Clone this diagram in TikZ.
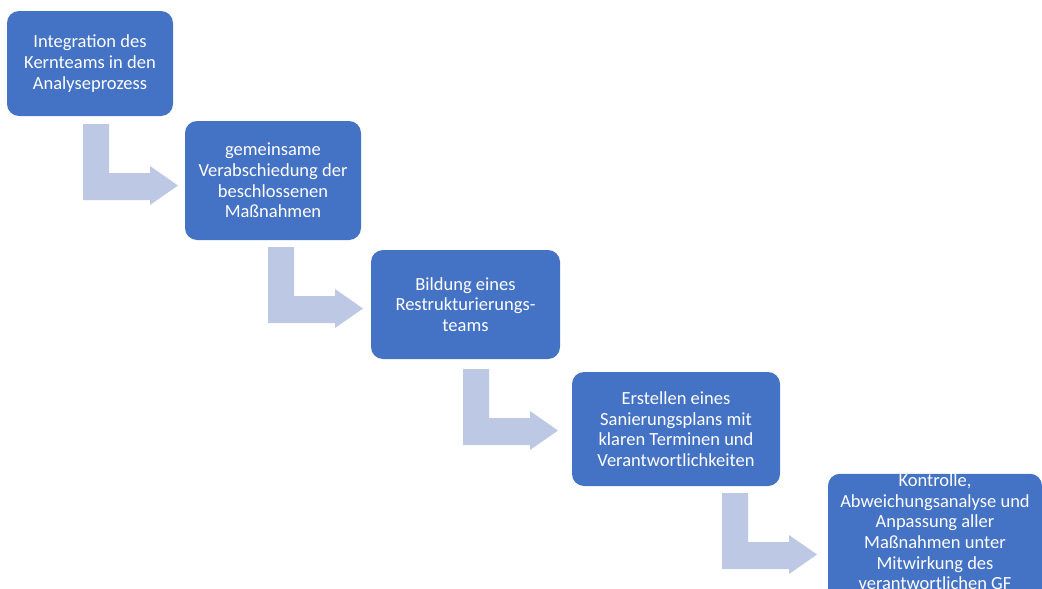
\documentclass[tikz,border=0pt]{standalone}
\usepackage{fontspec}
\setmainfont{Carlito}
\usepackage{tikz}
\definecolor{boxblue}{RGB}{68, 114, 196}
\definecolor{arrowblue}{RGB}{189, 200, 228}

\tikzset{
	stepbox/.style={rectangle, rounded corners=12pt, fill=boxblue, text=white, align=center, inner sep=0pt, font=\fontsize{18.5}{20.6}\selectfont},
	bentarrow/.pic={\fill[arrowblue] (0,0) -- (26,0) -- (26,49) -- (67,49) -- (67,42) -- (95,61.5) -- (67,81) -- (67,76) -- (0,76) -- cycle;}
}

\begin{document}
\begin{tikzpicture}[x=1pt, y=-1pt]
	\useasboundingbox (0,0) rectangle (1042,589);
	
	\node[stepbox, minimum width=166pt, minimum height=105pt] (i) at (90,63.5) {Integration des\\Kernteams in den\\Analyseprozess};
	\node[stepbox, minimum width=176pt, minimum height=119pt] (v) at (273,180.5) {gemeinsame\\Verabschiedung der\\beschlossenen\\Maßnahmen};
	\node[stepbox, minimum width=189pt, minimum height=109pt] (r) at (465.5,304.5) {Bildung eines\\Restrukturierungs-\\teams};
	\node[stepbox, minimum width=208pt, minimum height=114pt] (s) at (676,429) {Erstellen eines\\Sanierungsplans mit\\klaren Terminen und\\Verantwortlichkeiten};
	% last box runs off the lower edge
	\node[stepbox, minimum width=214pt, minimum height=136pt] (k) at (935,542) {Kontrolle,\\Abweichungsanalyse und\\Anpassung aller\\Maßnahmen unter\\Mitwirkung des\\verantwortlichen GF\\\mbox{}};
	
	% bent arrows between the steps
	\pic at (83,124) {bentarrow};
	\pic at (268,247) {bentarrow};
	\pic at (463,369) {bentarrow};
	\pic at (722,493) {bentarrow};
\end{tikzpicture}
\end{document}
